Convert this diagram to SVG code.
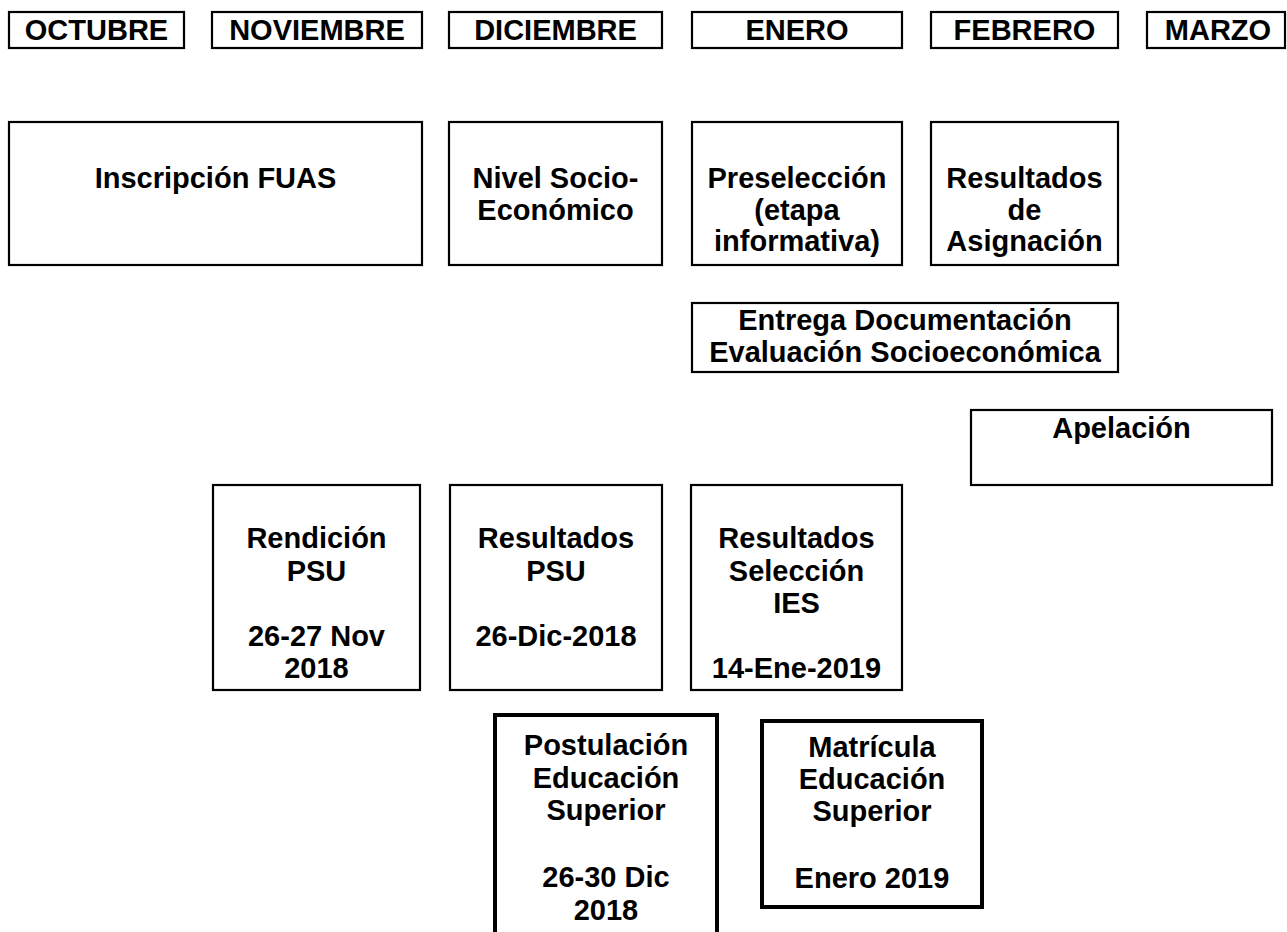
<svg xmlns="http://www.w3.org/2000/svg" width="1287" height="932" viewBox="0 0 1287 932">
<style>
rect.b{fill:#fff;stroke:#000;stroke-width:2.2}
rect.t{fill:#fff;stroke:#000;stroke-width:4}
text{font-family:"Liberation Sans",Arial,sans-serif;font-weight:bold;font-size:29px;fill:#000;text-anchor:middle}
</style>
<rect width="1287" height="932" fill="#fff"/>
<g id="connectors"></g>
<g id="m-octubre"><rect class="b" x="9" y="12" width="175" height="36"/><text x="96.5" y="40">OCTUBRE</text></g>
<g id="m-noviembre"><rect class="b" x="212" y="12" width="210" height="36"/><text x="317" y="40">NOVIEMBRE</text></g>
<g id="m-diciembre"><rect class="b" x="449" y="12" width="213" height="36"/><text x="555.5" y="40">DICIEMBRE</text></g>
<g id="m-enero"><rect class="b" x="692" y="12" width="210" height="36"/><text x="797" y="40">ENERO</text></g>
<g id="m-febrero"><rect class="b" x="931" y="12" width="187" height="36"/><text x="1024.5" y="40">FEBRERO</text></g>
<g id="m-marzo"><rect class="b" x="1147" y="12" width="138" height="36"/><text x="1218" y="40">MARZO</text></g>
<g id="inscripcion"><rect class="b" x="9" y="122" width="413" height="143"/><text x="215.5" y="188">Inscripción FUAS</text></g>
<g id="nivel"><rect class="b" x="449" y="122" width="213" height="143"/><text x="555.5" y="188">Nivel Socio-</text><text x="555.5" y="219.5">Económico</text></g>
<g id="preseleccion"><rect class="b" x="692" y="122" width="210" height="143"/><text x="797" y="188">Preselección</text><text x="797" y="219.5">(etapa</text><text x="797" y="251">informativa)</text></g>
<g id="asignacion"><rect class="b" x="931" y="122" width="187" height="143"/><text x="1024.5" y="188">Resultados</text><text x="1024.5" y="219.5">de</text><text x="1024.5" y="251">Asignación</text></g>
<g id="entrega"><rect class="b" x="692" y="303" width="426" height="69"/><text x="905" y="330">Entrega Documentación</text><text x="905" y="362">Evaluación Socioeconómica</text></g>
<g id="apelacion"><rect class="b" x="971" y="410" width="301" height="75"/><text x="1121.5" y="438">Apelación</text></g>
<g id="rendicion"><rect class="b" x="213" y="485" width="207" height="205"/><text x="316.5" y="548">Rendición</text><text x="316.5" y="580.5">PSU</text><text x="316.5" y="645.5">26-27 Nov</text><text x="316.5" y="678">2018</text></g>
<g id="resultados-psu"><rect class="b" x="450" y="485" width="212" height="205"/><text x="556" y="548">Resultados</text><text x="556" y="580.5">PSU</text><text x="556" y="645.5">26-Dic-2018</text></g>
<g id="seleccion-ies"><rect class="b" x="691" y="485" width="211" height="205"/><text x="796.5" y="548">Resultados</text><text x="796.5" y="580.5">Selección</text><text x="796.5" y="613">IES</text><text x="796.5" y="678">14-Ene-2019</text></g>
<g id="postulacion"><rect class="t" x="495" y="715" width="222" height="240"/><text x="606" y="755">Postulación</text><text x="606" y="788">Educación</text><text x="606" y="820">Superior</text><text x="606" y="887">26-30 Dic</text><text x="606" y="920">2018</text></g>
<g id="matricula"><rect class="t" x="762" y="721" width="220" height="186"/><text x="872" y="757">Matrícula</text><text x="872" y="789">Educación</text><text x="872" y="821">Superior</text><text x="872" y="888">Enero 2019</text></g>
</svg>
